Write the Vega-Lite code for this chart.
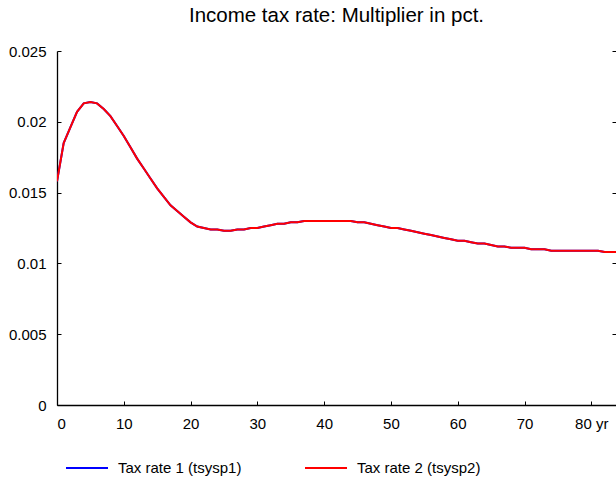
{
  "$schema": "https://vega.github.io/schema/vega-lite/v6.json",
  "width": 559,
  "height": 354,
  "autosize": {"type": "none"},
  "padding": {"left": 57, "top": 51, "right": 0, "bottom": 79},
  "background": "white",
  "config": {
    "font": "Liberation Sans",
    "view": {"stroke": null},
    "axis": {"grid": false, "domainColor": "black", "tickColor": "black", "labelColor": "black", "labelFontSize": 15, "labelFont": "Liberation Sans", "domainWidth": 1.3, "tickWidth": 1, "title": null}
  },
  "title": {"text": "Income tax rate: Multiplier in pct.", "fontSize": 20.5, "fontWeight": "normal", "font": "Liberation Sans", "color": "black", "offset": 18},
  "data": {"values": [
    {"t":0,"tsysp1":0.0158,"tsysp2":0.0158},
    {"t":1,"tsysp1":0.0185,"tsysp2":0.0185},
    {"t":2,"tsysp1":0.0196,"tsysp2":0.0196},
    {"t":3,"tsysp1":0.0207,"tsysp2":0.0207},
    {"t":4,"tsysp1":0.0213,"tsysp2":0.0213},
    {"t":5,"tsysp1":0.0214,"tsysp2":0.0214},
    {"t":6,"tsysp1":0.0213,"tsysp2":0.0213},
    {"t":7,"tsysp1":0.0209,"tsysp2":0.0209},
    {"t":8,"tsysp1":0.0204,"tsysp2":0.0204},
    {"t":9,"tsysp1":0.0197,"tsysp2":0.0197},
    {"t":10,"tsysp1":0.0190,"tsysp2":0.0190},
    {"t":11,"tsysp1":0.0182,"tsysp2":0.0182},
    {"t":12,"tsysp1":0.0174,"tsysp2":0.0174},
    {"t":13,"tsysp1":0.0167,"tsysp2":0.0167},
    {"t":14,"tsysp1":0.0160,"tsysp2":0.0160},
    {"t":15,"tsysp1":0.0153,"tsysp2":0.0153},
    {"t":16,"tsysp1":0.0147,"tsysp2":0.0147},
    {"t":17,"tsysp1":0.0141,"tsysp2":0.0141},
    {"t":18,"tsysp1":0.0137,"tsysp2":0.0137},
    {"t":19,"tsysp1":0.0133,"tsysp2":0.0133},
    {"t":20,"tsysp1":0.0129,"tsysp2":0.0129},
    {"t":21,"tsysp1":0.0126,"tsysp2":0.0126},
    {"t":22,"tsysp1":0.0125,"tsysp2":0.0125},
    {"t":23,"tsysp1":0.0124,"tsysp2":0.0124},
    {"t":24,"tsysp1":0.0124,"tsysp2":0.0124},
    {"t":25,"tsysp1":0.0123,"tsysp2":0.0123},
    {"t":26,"tsysp1":0.0123,"tsysp2":0.0123},
    {"t":27,"tsysp1":0.0124,"tsysp2":0.0124},
    {"t":28,"tsysp1":0.0124,"tsysp2":0.0124},
    {"t":29,"tsysp1":0.0125,"tsysp2":0.0125},
    {"t":30,"tsysp1":0.0125,"tsysp2":0.0125},
    {"t":31,"tsysp1":0.0126,"tsysp2":0.0126},
    {"t":32,"tsysp1":0.0127,"tsysp2":0.0127},
    {"t":33,"tsysp1":0.0128,"tsysp2":0.0128},
    {"t":34,"tsysp1":0.0128,"tsysp2":0.0128},
    {"t":35,"tsysp1":0.0129,"tsysp2":0.0129},
    {"t":36,"tsysp1":0.0129,"tsysp2":0.0129},
    {"t":37,"tsysp1":0.0130,"tsysp2":0.0130},
    {"t":38,"tsysp1":0.0130,"tsysp2":0.0130},
    {"t":39,"tsysp1":0.0130,"tsysp2":0.0130},
    {"t":40,"tsysp1":0.0130,"tsysp2":0.0130},
    {"t":41,"tsysp1":0.0130,"tsysp2":0.0130},
    {"t":42,"tsysp1":0.0130,"tsysp2":0.0130},
    {"t":43,"tsysp1":0.0130,"tsysp2":0.0130},
    {"t":44,"tsysp1":0.0130,"tsysp2":0.0130},
    {"t":45,"tsysp1":0.0129,"tsysp2":0.0129},
    {"t":46,"tsysp1":0.0129,"tsysp2":0.0129},
    {"t":47,"tsysp1":0.0128,"tsysp2":0.0128},
    {"t":48,"tsysp1":0.0127,"tsysp2":0.0127},
    {"t":49,"tsysp1":0.0126,"tsysp2":0.0126},
    {"t":50,"tsysp1":0.0125,"tsysp2":0.0125},
    {"t":51,"tsysp1":0.0125,"tsysp2":0.0125},
    {"t":52,"tsysp1":0.0124,"tsysp2":0.0124},
    {"t":53,"tsysp1":0.0123,"tsysp2":0.0123},
    {"t":54,"tsysp1":0.0122,"tsysp2":0.0122},
    {"t":55,"tsysp1":0.0121,"tsysp2":0.0121},
    {"t":56,"tsysp1":0.0120,"tsysp2":0.0120},
    {"t":57,"tsysp1":0.0119,"tsysp2":0.0119},
    {"t":58,"tsysp1":0.0118,"tsysp2":0.0118},
    {"t":59,"tsysp1":0.0117,"tsysp2":0.0117},
    {"t":60,"tsysp1":0.0116,"tsysp2":0.0116},
    {"t":61,"tsysp1":0.0116,"tsysp2":0.0116},
    {"t":62,"tsysp1":0.0115,"tsysp2":0.0115},
    {"t":63,"tsysp1":0.0114,"tsysp2":0.0114},
    {"t":64,"tsysp1":0.0114,"tsysp2":0.0114},
    {"t":65,"tsysp1":0.0113,"tsysp2":0.0113},
    {"t":66,"tsysp1":0.0112,"tsysp2":0.0112},
    {"t":67,"tsysp1":0.0112,"tsysp2":0.0112},
    {"t":68,"tsysp1":0.0111,"tsysp2":0.0111},
    {"t":69,"tsysp1":0.0111,"tsysp2":0.0111},
    {"t":70,"tsysp1":0.0111,"tsysp2":0.0111},
    {"t":71,"tsysp1":0.0110,"tsysp2":0.0110},
    {"t":72,"tsysp1":0.0110,"tsysp2":0.0110},
    {"t":73,"tsysp1":0.0110,"tsysp2":0.0110},
    {"t":74,"tsysp1":0.0109,"tsysp2":0.0109},
    {"t":75,"tsysp1":0.0109,"tsysp2":0.0109},
    {"t":76,"tsysp1":0.0109,"tsysp2":0.0109},
    {"t":77,"tsysp1":0.0109,"tsysp2":0.0109},
    {"t":78,"tsysp1":0.0109,"tsysp2":0.0109},
    {"t":79,"tsysp1":0.0109,"tsysp2":0.0109},
    {"t":80,"tsysp1":0.0109,"tsysp2":0.0109},
    {"t":81,"tsysp1":0.0109,"tsysp2":0.0109},
    {"t":82,"tsysp1":0.0108,"tsysp2":0.0108},
    {"t":83,"tsysp1":0.0108,"tsysp2":0.0108},
    {"t":84,"tsysp1":0.0108,"tsysp2":0.0108}
  ]},
  "transform": [{"fold": ["tsysp1", "tsysp2"], "as": ["series", "value"]}],
  "layer": [
    {
      "mark": {"type": "line", "strokeWidth": 2, "clip": true},
      "encoding": {
        "x": {"field": "t", "type": "quantitative",
          "scale": {"domain": [0, 83.7], "nice": false, "zero": false},
          "axis": {"values": [0,10,20,30,40,50,60,70,80], "tickSize": -4, "labelPadding": 15,
            "labelExpr": "datum.value == 80 ? '80 yr' : datum.label"}},
        "y": {"field": "value", "type": "quantitative",
          "scale": {"domain": [0, 0.025], "nice": false},
          "axis": {"values": [0,0.005,0.01,0.015,0.02,0.025], "format": "~g", "tickSize": -4, "labelPadding": 15}},
        "color": {"field": "series", "type": "nominal",
          "scale": {"domain": ["tsysp1", "tsysp2"], "range": ["#0000ff", "#ff0000"]},
          "legend": {"orient": "none", "legendX": 8, "legendY": 395, "direction": "horizontal", "title": null,
            "symbolType": "stroke", "symbolSize": 1764, "symbolStrokeWidth": 2, "labelFontSize": 15, "labelFont": "Liberation Sans",
            "labelColor": "black", "labelOffset": 9, "columnPadding": 59, "padding": 0,
            "labelExpr": "datum.label == 'tsysp1' ? 'Tax rate 1 (tsysp1)' : 'Tax rate 2 (tsysp2)'"}}
      }
    },
    {
      "mark": {"type": "rule", "opacity": 0},
      "encoding": {
        "y": {"field": "value", "type": "quantitative",
          "axis": {"orient": "right", "values": [0,0.005,0.01,0.015,0.02,0.025], "tickSize": -4, "labels": false, "domain": false}}
      }
    }
  ],
  "resolve": {"scale": {"y": "shared"}, "axis": {"y": "independent"}}
}
